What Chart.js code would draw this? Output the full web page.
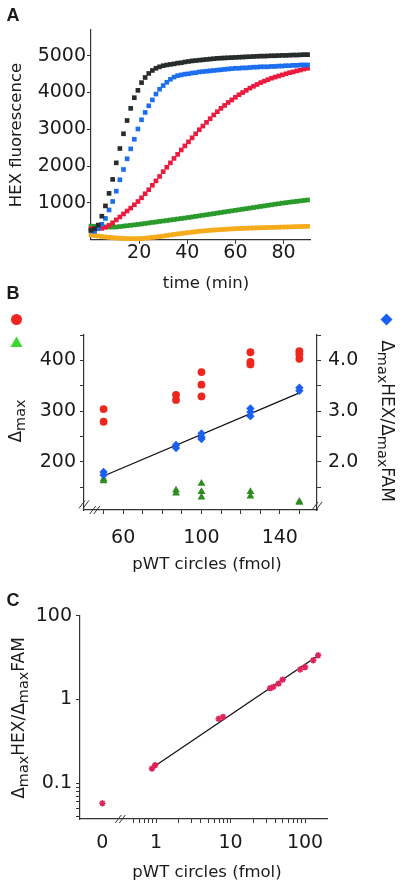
<!DOCTYPE html>
<html>
<head>
<meta charset="utf-8">
<script src="https://cdn.jsdelivr.net/npm/chart.js@4.4.1/dist/chart.umd.min.js"></script>
<style>
body { margin: 0; background: #fff; width: 400px; height: 883px; position: relative; overflow: hidden; font-family: 'DejaVu Sans', sans-serif; color: #1a1a1a; }
canvas { position: absolute; left: 0; }
.lbl { position: absolute; transform: translate(-50%, -50%); white-space: nowrap; font-size: 16.5px; }
.up { transform: translate(-50%, -50%) rotate(-90deg); }
.down { transform: translate(-50%, -50%) rotate(90deg); }
.panel { position: absolute; transform: translate(-50%, -50%); font: bold 18px 'Liberation Sans', Arial, sans-serif; }
.mk { position: absolute; }
sub { font-size: 0.85em; vertical-align: -0.3em; line-height: 0; }
</style>
</head>
<body>
<canvas id="chartA" width="400" height="300" style="top:0"></canvas>
<canvas id="chartB" width="400" height="300" style="top:290px"></canvas>
<canvas id="chartC" width="400" height="293" style="top:590px"></canvas>

<div class="panel" style="left:13px;top:15px">A</div>
<div class="panel" style="left:13px;top:293px">B</div>
<div class="panel" style="left:13px;top:600px">C</div>

<div class="lbl up" style="left:15px;top:135px">HEX fluorescence</div>
<div class="lbl" style="left:206px;top:282px">time (min)</div>

<svg class="mk" style="left:10px;top:313px" width="13" height="13"><circle cx="6.5" cy="6.5" r="5.5" fill="#f0261e"/></svg>
<svg class="mk" style="left:10px;top:336px" width="13" height="12"><polygon points="6.5,0.5 12.5,11 0.5,11" fill="#3bd934"/></svg>
<div class="lbl up" style="left:15px;top:421px;font-size:17px">&Delta;<sub>max</sub></div>
<svg class="mk" style="left:380px;top:313px" width="13" height="13"><polygon points="6.5,0.5 12.5,6.5 6.5,12.5 0.5,6.5" fill="#1a5ff0"/></svg>
<div class="lbl down" style="left:388px;top:421px;font-size:17px">&Delta;<sub>max</sub>HEX/&Delta;<sub>max</sub>FAM</div>
<div class="lbl" style="left:207px;top:563px">pWT circles (fmol)</div>

<div class="lbl up" style="left:18px;top:718px;font-size:17px">&Delta;<sub>max</sub>HEX/&Delta;<sub>max</sub>FAM</div>
<div class="lbl" style="left:207px;top:871px">pWT circles (fmol)</div>

<script>
// Panel A: HEX fluorescence time courses (one reading every 1.5 min)
const timeMin = [
  0, 1.5, 3, 4.5, 6, 7.5, 9, 10.5, 12, 13.5,
  15, 16.5, 18, 19.5, 21, 22.5, 24, 25.5, 27, 28.5,
  30, 31.5, 33, 34.5, 36, 37.5, 39, 40.5, 42, 43.5,
  45, 46.5, 48, 49.5, 51, 52.5, 54, 55.5, 57, 58.5,
  60, 61.5, 63, 64.5, 66, 67.5, 69, 70.5, 72, 73.5,
  75, 76.5, 78, 79.5, 81, 82.5, 84, 85.5, 87, 88.5,
  90
];
const hexBlack = [
  260, 300, 400, 640, 920, 1260, 1640, 2090, 2480, 2880,
  3240, 3570, 3860, 4060, 4270, 4410, 4520, 4600, 4660, 4700,
  4730, 4750, 4765, 4780, 4800, 4810, 4830, 4845, 4860, 4870,
  4880, 4890, 4900, 4910, 4920, 4930, 4935, 4940, 4945, 4950,
  4955, 4960, 4965, 4970, 4975, 4980, 4985, 4990, 4990, 4995,
  5000, 5000, 5005, 5010, 5010, 5015, 5020, 5020, 5025, 5030,
  5030
];
const hexBlue = [
  240, 230, 300, 420, 580, 810, 1040, 1320, 1630, 1910,
  2200, 2470, 2730, 3010, 3260, 3460, 3640, 3800, 3960, 4090,
  4190, 4280, 4360, 4420, 4460, 4480, 4500, 4510, 4530, 4540,
  4560, 4570, 4580, 4590, 4600, 4610, 4620, 4630, 4640, 4650,
  4660, 4660, 4670, 4670, 4680, 4690, 4690, 4700, 4700, 4700,
  4710, 4710, 4720, 4720, 4730, 4730, 4740, 4740, 4750, 4750,
  4750
];
const hexRed = [
  300, 300, 300, 310, 340, 390, 460, 540, 620, 700,
  780, 860, 950, 1040, 1140, 1250, 1360, 1480, 1600, 1720,
  1850, 1970, 2090, 2210, 2320, 2440, 2550, 2660, 2770, 2880,
  2990, 3090, 3190, 3290, 3390, 3480, 3570, 3650, 3730, 3800,
  3870, 3940, 4000, 4060, 4120, 4170, 4220, 4270, 4310, 4350,
  4390, 4420, 4450, 4480, 4510, 4540, 4560, 4590, 4610, 4640,
  4660
];
const hexGreen = [
  370, 365, 360, 352, 348, 346, 345, 348, 358, 370,
  380, 392, 404, 416, 428, 442, 456, 470, 483, 497,
  510, 523, 537, 550, 564, 577, 591, 605, 620, 635,
  650, 665, 680, 695, 710, 725, 740, 755, 770, 785,
  800, 815, 830, 845, 860, 875, 890, 905, 920, 935,
  950, 965, 980, 995, 1008, 1020, 1032, 1044, 1056, 1068,
  1080
];
const hexYellow = [
  130, 115, 100, 88, 75, 64, 55, 48, 42, 36,
  32, 30, 29, 30, 33, 42, 52, 64, 75, 88,
  100, 115, 130, 145, 158, 170, 182, 194, 206, 218,
  230, 239, 248, 257, 264, 270, 276, 282, 288, 294,
  300, 305, 309, 313, 317, 320, 323, 326, 329, 332,
  335, 338, 341, 344, 347, 350, 353, 356, 359, 362,
  365
];
const ticksA_x = [20, 40, 60, 80];
const ticksA_y = [1000, 2000, 3000, 4000, 5000];

// Panel B: delta max vs pWT circles
const deltaRedX = [50, 50, 87, 87, 100, 100, 100, 125, 125, 125, 150, 150, 150];
const deltaRedY = [304, 279, 332, 322, 377, 352, 329, 416, 397, 392, 418, 412, 403];
const deltaGreenX = [50, 50, 87, 87, 100, 100, 100, 125, 125, 150, 150];
const deltaGreenY = [162, 166, 144, 138, 157, 141, 130, 141, 132, 120, 122];
const ratioBlueX = [50, 50, 87, 87, 100, 100, 100, 125, 125, 125, 150, 150];
const ratioBlueY = [1.80, 1.74, 2.33, 2.27, 2.56, 2.49, 2.45, 3.05, 2.98, 2.90, 3.46, 3.40];
const fitBX = [50, 150];
const fitBY = [1.72, 3.36];
const ticksB_x = [50, 60, 70, 80, 90, 100, 110, 120, 130, 140, 150];
const labelsB_x = [60, 100, 140];
const ticksB_y = [150, 200, 250, 300, 350, 400, 450];
const labelsB_y = [200, 300, 400];
const ticksB_y2 = [1.5, 2, 2.5, 3, 3.5, 4, 4.5];
const labelsB_y2 = [2, 3, 4];

// Panel C: ratio vs pWT circles, log-log
const ratioX = [0.88, 0.97, 6.9, 7.9, 34, 37.5, 44, 50, 86, 100, 129, 150];
const ratioY = [0.15, 0.165, 0.59, 0.62, 1.37, 1.41, 1.55, 1.73, 2.28, 2.44, 2.94, 3.37];
const zeroX = [0];
const zeroY = [0.058];
const fitCX = [0.9, 150];
const fitCY = [0.155, 3.35];
const ticksC_x = [0.5, 0.6, 0.7, 0.8, 0.9, 1, 2, 3, 4, 5, 6, 7, 8, 9, 10, 20, 30, 40, 50, 60, 70, 80, 90, 100];
const labelsC_x = [1, 10, 100];
const ticksC_y = [0.04, 0.05, 0.06, 0.07, 0.08, 0.09, 0.1, 1, 10];
// the top decade mark carries the text "100" in the original figure
const labelValuesC_y = [0.1, 1, 10];
const labelTextC_y = ['0.1', '1', '100'];

const ZERO_POS = 0.19; // where the "0" sits left of the axis break

Chart.defaults.font.family = "'DejaVu Sans', sans-serif";
Chart.defaults.font.size = 19;
Chart.defaults.color = '#1a1a1a';
Chart.defaults.animation = false;
Chart.defaults.events = [];
Chart.defaults.plugins.legend.display = false;
Chart.defaults.plugins.tooltip.enabled = false;

const pts = (xs, ys) => xs.map((x, i) => ({ x: x, y: ys[i] }));

// little "//" marks where an axis is broken
const breakMarks = {
  id: 'breakMarks',
  afterDraw(chart, args, opts) {
    const ctx = chart.ctx;
    (opts.marks || []).forEach(m => {
      const x = chart.scales[m.xAxis || 'x'].getPixelForValue(m.x);
      const y = chart.scales[m.yAxis || 'y'].getPixelForValue(m.y);
      ctx.save();
      ctx.strokeStyle = '#333';
      ctx.lineWidth = 1;
      [-2, 2].forEach(d => {
        ctx.beginPath();
        ctx.moveTo(x + d - 3, y + 4);
        ctx.lineTo(x + d + 3, y - 4);
        ctx.stroke();
      });
      ctx.restore();
    });
  }
};

function setTicks(values) {
  return scale => { scale.ticks = values.map(v => ({ value: v })); };
}
function onlyLabels(list, fmt) {
  return value => list.includes(value) ? (fmt ? fmt(value) : String(value)) : '';
}
const border = { display: true, color: '#333', width: 1.2 };
const grid = { drawOnChartArea: false, tickLength: 4, color: '#333', lineWidth: 1 };

function squares(data, color, order) {
  return { data: data, backgroundColor: color, borderWidth: 0, pointStyle: 'rect', pointRadius: 3.3, order: order, clip: false };
}

// ---- A ----
new Chart(document.getElementById('chartA'), {
  type: 'scatter',
  data: {
    datasets: [
      squares(pts(timeMin, hexBlack), '#282d2a', 0),
      squares(pts(timeMin, hexBlue), '#1e6ff0', 1),
      squares(pts(timeMin, hexRed), '#ec1a3e', 2),
      squares(pts(timeMin, hexGreen), '#2a9b2a', 3),
      squares(pts(timeMin, hexYellow), '#f6ab1a', 4)
    ]
  },
  options: {
    responsive: false,
    layout: { padding: { top: 30, right: 90, left: 0, bottom: 0 } },
    scales: {
      x: {
        type: 'linear', min: 0, max: 91,
        border: border, grid: grid,
        afterBuildTicks: setTicks(ticksA_x),
        afterFit: s => { s.height = 60.25; },
        ticks: { padding: -2, maxRotation: 0, callback: v => String(v) }
      },
      y: {
        type: 'linear', min: 0, max: 5700,
        border: border, grid: grid,
        afterBuildTicks: setTicks(ticksA_y),
        afterFit: s => { s.width = 91; },
        ticks: { padding: 1, callback: v => String(v) }
      }
    }
  }
});

// ---- B ----
new Chart(document.getElementById('chartB'), {
  type: 'scatter',
  data: {
    datasets: [
      { type: 'line', data: pts(fitBX, fitBY), yAxisID: 'y2', borderColor: '#111', borderWidth: 1.3, pointRadius: 0, order: 3 },
      { data: pts(ratioBlueX, ratioBlueY), yAxisID: 'y2', backgroundColor: '#1a5ff0', borderWidth: 0, pointStyle: 'rectRot', pointRadius: 4.2, order: 0 },
      { data: pts(deltaRedX, deltaRedY), yAxisID: 'y', backgroundColor: '#f0261e', borderWidth: 0, pointStyle: 'circle', pointRadius: 3.9, order: 1 },
      { data: pts(deltaGreenX, deltaGreenY), yAxisID: 'y', backgroundColor: '#2e8b22', borderWidth: 0, pointStyle: 'triangle', pointRadius: 4.5, order: 2 }
    ]
  },
  options: {
    responsive: false,
    layout: { padding: { top: 45, right: 0, left: 0, bottom: 0 } },
    scales: {
      x: {
        type: 'linear', min: 40, max: 159,
        border: border, grid: grid,
        afterBuildTicks: setTicks(ticksB_x),
        afterFit: s => { s.height = 80; },
        ticks: { padding: 13, maxRotation: 0, autoSkip: false, callback: onlyLabels(labelsB_x) }
      },
      y: {
        type: 'linear', position: 'left', min: 105, max: 450,
        border: border, grid: grid,
        afterBuildTicks: setTicks(ticksB_y),
        afterFit: s => { s.width = 84; },
        ticks: { padding: 4, autoSkip: false, callback: onlyLabels(labelsB_y) }
      },
      y2: {
        type: 'linear', position: 'right', min: 1.05, max: 4.5,
        border: border, grid: grid,
        afterBuildTicks: setTicks(ticksB_y2),
        afterFit: s => { s.width = 83; },
        ticks: { padding: 7, autoSkip: false, callback: onlyLabels(labelsB_y2, v => v.toFixed(1)) }
      }
    },
    plugins: {
      breakMarks: { marks: [
        { x: 40, y: 116 },
        { x: 45.5, y: 105 },
        { x: 159, y: 1.13, yAxis: 'y2' }
      ] }
    }
  },
  plugins: [breakMarks]
});

// ---- C ----
new Chart(document.getElementById('chartC'), {
  type: 'scatter',
  data: {
    datasets: [
      { type: 'line', data: pts(fitCX, fitCY), borderColor: '#111', borderWidth: 1.3, pointRadius: 0, order: 2 },
      { data: pts(ratioX, ratioY), borderColor: '#e0245a', backgroundColor: '#e0245a', borderWidth: 1.6, pointStyle: 'star', pointRadius: 3.2, order: 0 },
      { data: pts(zeroX.map(x => x === 0 ? ZERO_POS : x), zeroY), borderColor: '#e0245a', backgroundColor: '#e0245a', borderWidth: 1.6, pointStyle: 'star', pointRadius: 3.2, order: 1 }
    ]
  },
  options: {
    responsive: false,
    layout: { padding: { top: 25.7, right: 73, left: 0, bottom: 0 } },
    scales: {
      x: {
        type: 'logarithmic', min: 0.095, max: 197,
        border: border,
        grid: Object.assign({}, grid, { tickColor: c => c.tick && c.tick.value === ZERO_POS ? 'rgba(0,0,0,0)' : '#333' }),
        afterBuildTicks: setTicks([ZERO_POS].concat(ticksC_x)),
        afterFit: s => { s.height = 64; },
        ticks: { padding: 9, maxRotation: 0, autoSkip: false,
          callback: v => v === ZERO_POS ? '0' : (labelsC_x.includes(v) ? String(v) : '') }
      },
      y: {
        type: 'logarithmic', min: 0.0376, max: 10,
        border: border, grid: grid,
        afterBuildTicks: setTicks(ticksC_y),
        afterFit: s => { s.width = 80; },
        ticks: { padding: 4, autoSkip: false, callback: v => {
          const i = labelValuesC_y.indexOf(v);
          return i >= 0 ? labelTextC_y[i] : '';
        } }
      }
    },
    plugins: {
      breakMarks: { marks: [ { x: 0.33, y: 0.0376 } ] }
    }
  },
  plugins: [breakMarks]
});
</script>
</body>
</html>
